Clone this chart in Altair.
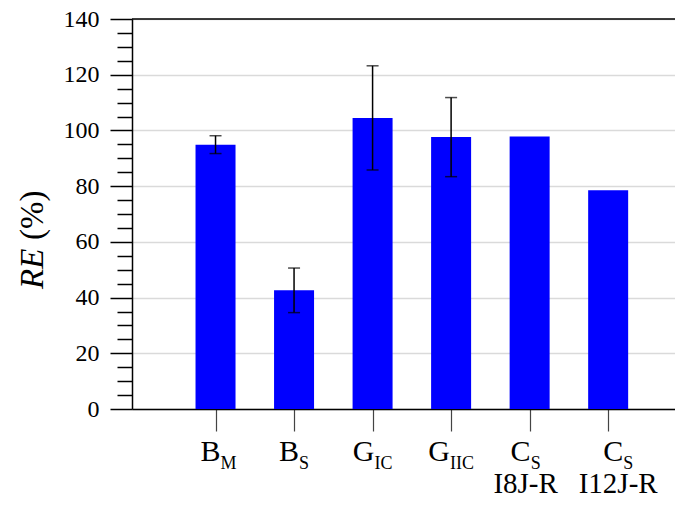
import altair as alt
import pandas as pd

# ---- data ----
positions = [1, 2, 3, 4, 5, 6]
label_main = ["B", "B", "G", "G", "C", "C"]
label_sub = ["M", "S", "IC", "IIC", "S", "S"]
label_line2 = ["", "", "", "", "I8J-R", "I12J-R"]
re_values = [94.9, 42.6, 104.5, 97.6, 97.8, 78.5]
re_err = [3.2, 8.0, 18.7, 14.2, None, None]

major_ticks = [0, 20, 40, 60, 80, 100, 120, 140]
minor_ticks = [v for v in range(0, 141, 5) if v % 20 != 0]

# small horizontal nudges of the category labels (style, in px)
label_shift = [3, 0, 0, 0, -4, 10]

FONT = "Liberation Serif"

rows = []
for p, m, s, l2, v, e in zip(positions, label_main, label_sub, label_line2, re_values, re_err):
    rows.append({
        "pos": p, "main": m, "sub": s, "line2": l2, "re": v,
        "lo": (v - e) if e is not None else None,
        "hi": (v + e) if e is not None else None,
    })
df = pd.DataFrame(rows)
df_err = df.dropna(subset=["lo"])

PLOT_W, PLOT_H = 543, 390
x_scale = alt.Scale(domain=[0, PLOT_W / 80], nice=False, zero=False)
y_scale = alt.Scale(domain=[0, 140], nice=False)

x_axis = alt.Axis(values=positions, tickSize=22, labels=False, title=None, grid=False,
                  domainColor="black", domainWidth=1.5, tickColor="#444444", tickWidth=1.2)
y_axis = alt.Axis(values=major_ticks, tickSize=22, tickWidth=1.5, tickColor="black",
                  labelFont=FONT, labelFontSize=24, labelColor="black", labelPadding=11,
                  grid=True, gridColor="#dadada", gridWidth=1.5,
                  domainColor="black", domainWidth=1.5, title=None)
y_minor_axis = alt.Axis(orient="left", values=minor_ticks, tickSize=15, tickWidth=1.5,
                        tickColor="black", labels=False, domain=False, grid=False, title=None)

X = alt.X("pos:Q", scale=x_scale, axis=x_axis)

bars = alt.Chart(df).mark_bar(size=40, color="#0000ff").encode(
    x=X, y=alt.Y("re:Q", scale=y_scale, axis=y_axis)
)

err_rule = alt.Chart(df_err).mark_rule(color="black", strokeWidth=1.5).encode(
    x=X, y=alt.Y("lo:Q", scale=y_scale, axis=y_minor_axis), y2="hi:Q"
)
cap_lo = alt.Chart(df_err).mark_tick(orient="horizontal", size=12, thickness=1.5, color="black").encode(
    x=X, y=alt.Y("lo:Q", scale=y_scale, axis=None)
)
cap_hi = alt.Chart(df_err).mark_tick(orient="horizontal", size=12, thickness=1.5, color="black").encode(
    x=X, y=alt.Y("hi:Q", scale=y_scale, axis=None)
)

top_border = alt.Chart(df.head(1)).mark_rule(color="black", strokeWidth=1.5).encode(
    y=alt.Y(datum=140, scale=y_scale, axis=None)
)

# approximate glyph widths (Times metrics, em)
W = {"B": 0.667, "C": 0.667, "G": 0.722, "M": 0.889, "S": 0.556, "I": 0.333}
MAIN_FS, SUB_FS, LINE2_FS = 30, 18, 29

label_layers = []
for p, m, s, l2, sh in zip(positions, label_main, label_sub, label_line2, label_shift):
    wm = sum(W[c] for c in m) * MAIN_FS
    ws = sum(W[c] for c in s) * SUB_FS
    off = (wm - ws) / 2 + sh
    sel = alt.Chart(df).transform_filter(alt.datum.pos == p)
    label_layers.append(sel.mark_text(font=FONT, fontSize=MAIN_FS, align="right", baseline="alphabetic",
                                      dx=off, color="black").encode(x=X, y=alt.value(442), text="main:N"))
    label_layers.append(sel.mark_text(font=FONT, fontSize=SUB_FS, align="left", baseline="alphabetic",
                                      dx=off, color="black").encode(x=X, y=alt.value(449.5), text="sub:N"))
    if l2:
        label_layers.append(sel.mark_text(font=FONT, fontSize=LINE2_FS, align="center", baseline="alphabetic",
                                          dx=sh, color="black").encode(x=X, y=alt.value(474), text="line2:N"))

TFS = 33
title_df = pd.DataFrame({"a": ["RE"], "b": ["(%)"]})
title_re = alt.Chart(title_df).mark_text(font=FONT, fontSize=TFS, fontStyle="italic", angle=270,
                                         align="left", baseline="alphabetic", color="black").encode(
    x=alt.value(-89), y=alt.value(270), text="a:N")
title_pct = alt.Chart(title_df).mark_text(font=FONT, fontSize=TFS, angle=270,
                                          align="left", baseline="alphabetic", color="black").encode(
    x=alt.value(-89), y=alt.value(270 - 49), text="b:N")

chart = alt.layer(
    bars, err_rule, cap_lo, cap_hi, top_border, *label_layers, title_re, title_pct
).resolve_axis(y="independent").properties(
    width=PLOT_W, height=PLOT_H,
    padding={"left": 124, "top": 11, "right": 0, "bottom": 89},
    autosize=alt.AutoSizeParams(type="none"),
).configure_view(stroke=None).configure_axis(labelFont=FONT)

chart.save("out.html", embed_options={"renderer": "svg", "actions": False})
